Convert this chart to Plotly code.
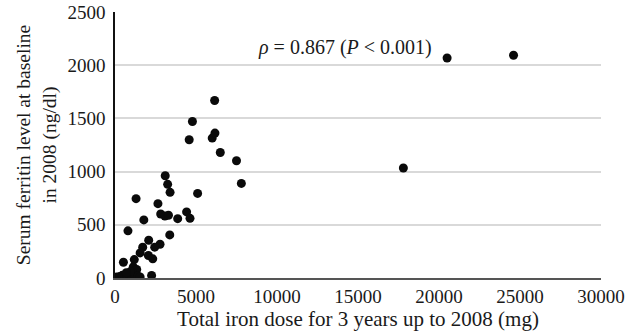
import plotly.graph_objects as go

# Total iron dose (mg) and serum ferritin (ng/dl)
iron_dose = [20500, 24600, 17800,
             6150, 4780, 4580, 6000, 6170, 6500, 7500, 7800, 5100,
             3100, 3250, 3400,
             1300, 2650, 2820, 3080, 3300, 4420, 4630, 3870, 1780, 800,
             3380, 2080, 2780, 2450, 1710, 1550, 2060, 2330, 520, 1190,
             1130, 1340, 2260,
             100, 300, 450, 600, 750, 900, 1050, 1200, 1400, 1550, 950, 700]
ferritin = [2068, 2094, 1034,
            1668, 1471, 1299, 1315, 1362, 1180, 1102, 889, 795,
            961, 880, 805,
            746, 699, 602, 583, 590, 621, 561, 558, 546, 443,
            405, 355, 317, 290, 289, 236, 211, 180, 148, 173,
            105, 80, 23,
            10, 15, 25, 10, 20, 30, 15, 30, 20, 10, 60, 50]

x_ticks = [0, 5000, 10000, 15000, 20000, 25000, 30000]
y_ticks = [0, 500, 1000, 1500, 2000, 2500]

FF = "Liberation Serif"
TXT = "#1a1a1a"

fig = go.Figure()
fig.add_trace(go.Scatter(
    x=iron_dose, y=ferritin, mode="markers",
    marker=dict(color="#0a0a0a", size=9, line=dict(width=0)),
    showlegend=False,
))

fig.add_annotation(
    x=8700, y=2170, xref="x", yref="y",
    text="<i>ρ</i> = 0.867 (<i>P</i> &lt; 0.001)",
    showarrow=False, xanchor="left", yanchor="middle",
    font=dict(family=FF, size=20, color=TXT),
)

fig.update_layout(
    width=629, height=336,
    margin=dict(l=115, r=28, t=12, b=58),
    paper_bgcolor="white", plot_bgcolor="white",
    font=dict(family=FF, size=19, color=TXT),
    xaxis=dict(
        range=[0, 30000], tickvals=x_ticks,
        ticktext=[str(v) for v in x_ticks],
        showgrid=False, zeroline=False, automargin=False,
        showline=True, linecolor="#555", linewidth=1.5,
        ticks="", ticklen=0, tickfont=dict(family=FF, size=19, color=TXT),
        title=dict(text="Total iron dose for 3 years up to 2008 (mg)",
                   font=dict(family=FF, size=21, color=TXT), standoff=1),
    ),
    yaxis=dict(
        range=[0, 2500], tickvals=y_ticks,
        ticktext=[str(v) for v in y_ticks],
        showgrid=True, gridcolor="#d9d9d9", gridwidth=1.5,
        zeroline=False, automargin=False,
        showline=True, linecolor="#111", linewidth=1.5,
        ticks="", ticklen=0, ticklabelstandoff=4,
        tickfont=dict(family=FF, size=19, color=TXT),
        title=dict(text="Serum ferritin level at baseline<br>in 2008 (ng/dl)",
                   font=dict(family=FF, size=19.5, color=TXT), standoff=6),
    ),
)

fig.write_html("out.html")
